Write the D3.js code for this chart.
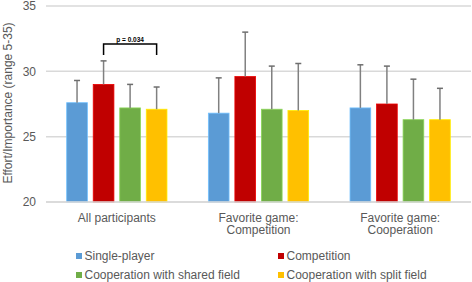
<!DOCTYPE html>
<html>
<head>
<meta charset="utf-8">
<script src="https://cdn.jsdelivr.net/npm/d3@7"></script>
<style>
  body { margin: 0; background: #fff; }
  text { font-family: "Liberation Sans", Arial, sans-serif; fill: #595959; }
</style>
</head>
<body>
<div id="chart"></div>
<script>
// data
var groups = ["All participants", "Favorite game:\nCompetition", "Favorite game:\nCooperation"];
var seriesNames = ["Single-player", "Competition", "Cooperation with shared field", "Cooperation with split field"];
var seriesColors = ["#5b9bd5", "#c00000", "#70ad47", "#ffc000"];
// means per series, one entry per group
var means = [
  [27.6, 26.8, 27.2],
  [29.0, 29.6, 27.5],
  [27.2, 27.1, 26.3],
  [27.1, 27.0, 26.3]
];
// top of error bar (mean + SD)
var errTops = [
  [29.3, 29.5, 30.5],
  [30.8, 33.0, 30.4],
  [29.0, 30.4, 29.4],
  [28.8, 30.6, 28.7]
];
var yTicks = [20, 25, 30, 35];

var width = 472, height = 282;

var svg = d3.select("#chart")
    .append("svg")
    .attr("width", width)
    .attr("height", height)

var x = d3.scaleBand()
    .domain(groups)
    .range([46, 471])

var xInner = d3.scaleBand()
    .domain(seriesNames)
    .range([0, x.bandwidth()])
    .paddingInner(0.22)
    .paddingOuter(0.78)

var y = d3.scaleLinear()
    .domain([20, 35])
    .range([202, 6]);

// gridlines
svg.append("g")
    .selectAll("line")
    .data(yTicks)
    .enter()
    .append("line")
    .attr("x1", 46)
    .attr("x2", 471)
    .attr("y1", d => y(d))
    .attr("y2", d => y(d))
    .style("stroke", "#d9d9d9")
    .style("stroke-width", 1.5)

// y axis labels
svg.append("g")
    .selectAll("text")
    .data(yTicks)
    .enter()
    .append("text")
    .attr("x", 36)
    .attr("y", d => y(d))
    .attr("dy", "0.35em")
    .attr("text-anchor", "end")
    .style("font-size", "12px")
    .text(d => d)

svg.append("text")
    .attr("text-anchor", "middle")
    .attr("transform", "translate(8,103) rotate(-90)")
    .attr("dy", "0.35em")
    .style("font-size", "12px")
    .text("Effort/Importance (range 5-35)");

// bars
var bars = svg.append("g")
seriesNames.forEach(function(s, si) {
  var g = bars.append("g")
  g.selectAll("rect")
    .data(groups)
    .enter()
    .append("rect")
    .attr("x", d => x(d) + xInner(s))
    .attr("width", xInner.bandwidth())
    .attr("y", (d, i) => y(means[si][i]))
    .attr("height", (d, i) => y(20) - y(means[si][i]))
    .style("fill", seriesColors[si])
    .style("stroke", d3.color(seriesColors[si]).brighter(0.6))
    .style("stroke-width", 0.8)

  // error bars, upper half only
  g.selectAll("line.err")
    .data(groups)
    .enter()
    .append("line")
    .attr("class", "err")
    .attr("x1", d => x(d) + xInner(s) + xInner.bandwidth() / 2)
    .attr("x2", d => x(d) + xInner(s) + xInner.bandwidth() / 2)
    .attr("y1", (d, i) => y(means[si][i]))
    .attr("y2", (d, i) => y(errTops[si][i]))
    .style("stroke", "#808080")
    .style("stroke-width", 1.5)
  g.selectAll("line.cap")
    .data(groups)
    .enter()
    .append("line")
    .attr("class", "cap")
    .attr("x1", d => x(d) + xInner(s) + xInner.bandwidth() / 2 - 3)
    .attr("x2", d => x(d) + xInner(s) + xInner.bandwidth() / 2 + 3)
    .attr("y1", (d, i) => y(errTops[si][i]))
    .attr("y2", (d, i) => y(errTops[si][i]))
    .style("stroke", "#6e6e6e")
    .style("stroke-width", 1.5)
})

// baseline
svg.append("line")
    .attr("x1", 46)
    .attr("x2", 471)
    .attr("y1", y(20))
    .attr("y2", y(20))
    .style("stroke", "#d9d9d9")
    .style("stroke-width", 1.5)

// x labels
svg.append("g")
    .selectAll("text")
    .data(groups)
    .enter()
    .append("text")
    .attr("text-anchor", "middle")
    .attr("x", d => x(d) + x.bandwidth() / 2)
    .attr("y", 221.5)
    .style("font-size", "12px")
    .each(function(d) {
      var lines = d.split("\n");
      var t = d3.select(this);
      lines.forEach(function(l, i) {
        t.append("tspan")
          .attr("x", x(d) + x.bandwidth() / 2)
          .attr("dy", i == 0 ? 0 : 12.5)
          .text(l)
      })
    })

// significance bracket
var bx1 = x(groups[0]) + xInner(seriesNames[1]) + xInner.bandwidth() / 2;
var bx2 = x(groups[0]) + xInner(seriesNames[3]) + xInner.bandwidth() / 2;
svg.append("path")
    .attr("d", "M" + bx1 + ",55V44H" + bx2 + "V55")
    .style("fill", "none")
    .style("stroke", "#000")
    .style("stroke-width", 1.5)
svg.append("text")
    .attr("x", (bx1 + bx2) / 2)
    .attr("y", 42)
    .attr("text-anchor", "middle")
    .style("font-size", "6.5px")
    .style("font-weight", "bold")
    .style("fill", "#000")
    .text("p = 0.034");

// legend
var legend = svg.append("g")
    .selectAll("g")
    .data(seriesNames)
    .enter()
    .append("g")
    .attr("transform", (d, i) => "translate(" + (i % 2 == 0 ? 76 : 278) + "," + (i < 2 ? 256 : 275) + ")")
legend.append("rect")
    .attr("x", 0)
    .attr("y", -3)
    .attr("width", 6)
    .attr("height", 6)
    .style("fill", (d, i) => seriesColors[i])
legend.append("text")
    .attr("x", 8.5)
    .attr("dy", "0.35em")
    .style("font-size", "12px")
    .text(d => d)
</script>
</body>
</html>
